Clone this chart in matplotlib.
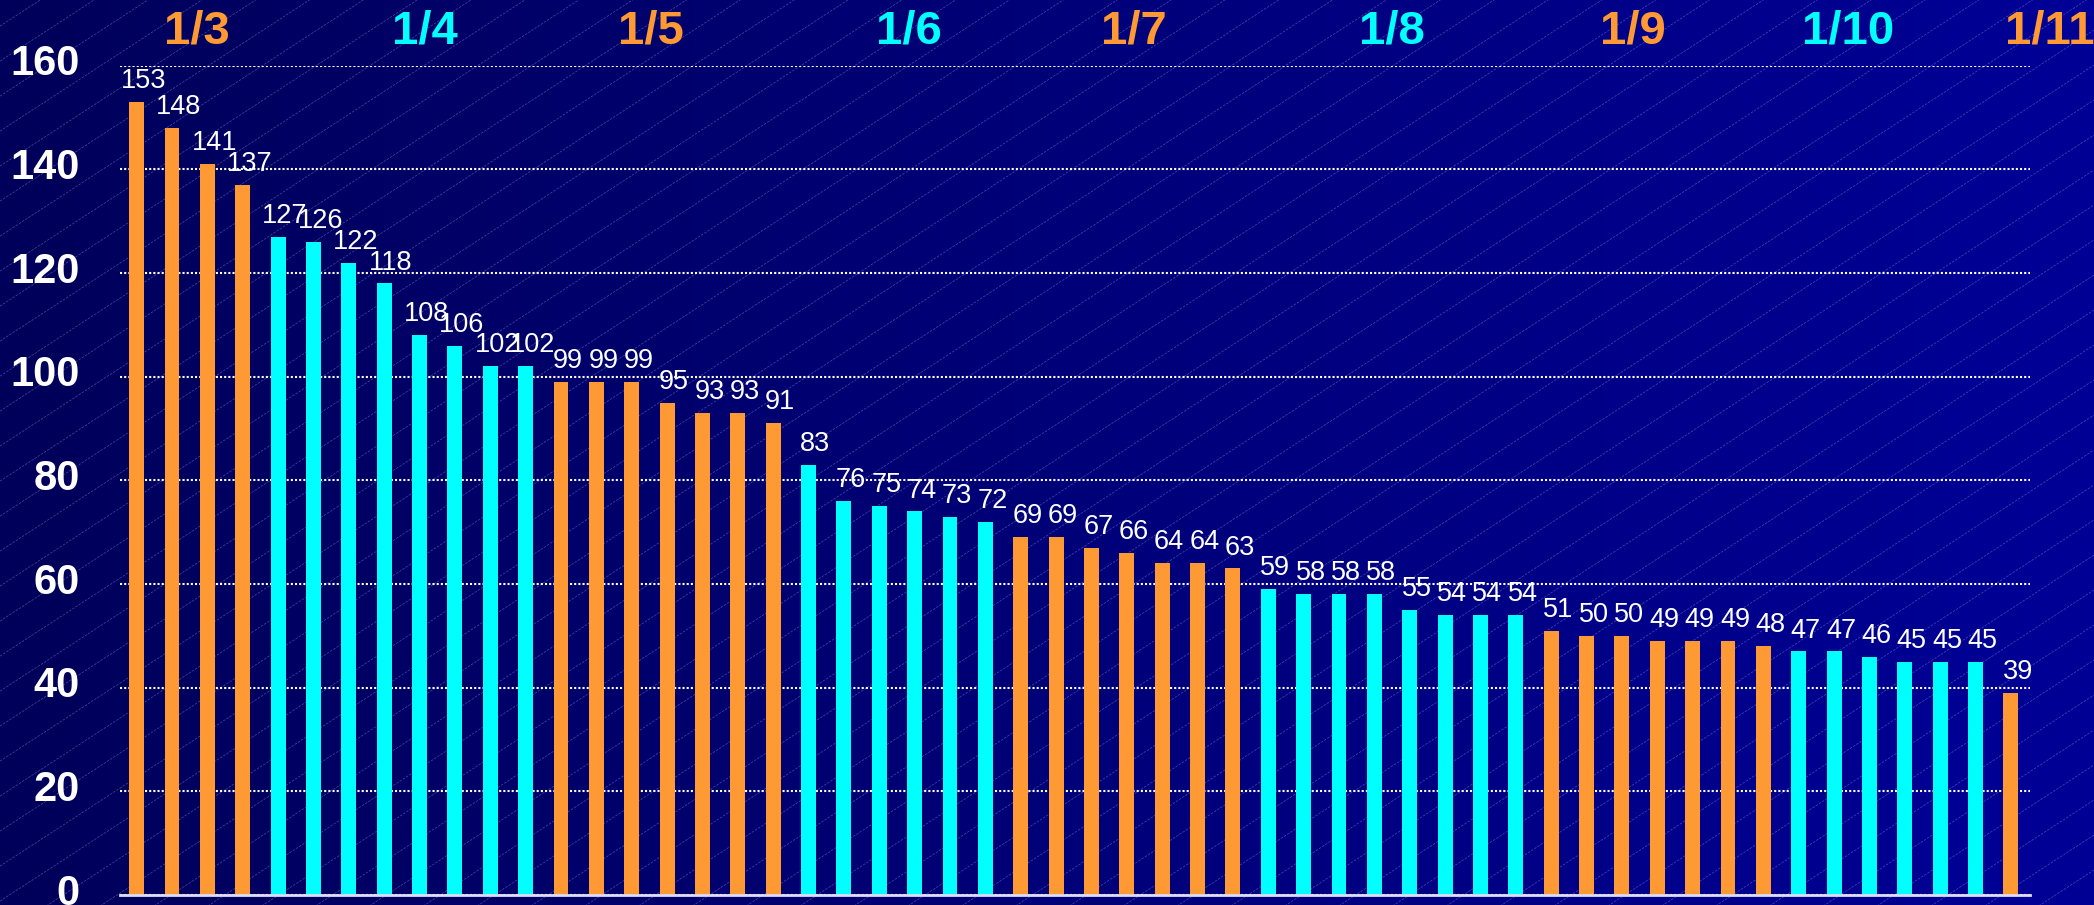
import numpy as np
import matplotlib
matplotlib.use("Agg")
import matplotlib.pyplot as plt
from matplotlib.transforms import ScaledTranslation

plt.rcParams['font.family'] = ['Liberation Sans', 'DejaVu Sans']

# group headers and how many bars fall under each one
group_labels = ['1/3', '1/4', '1/5', '1/6', '1/7', '1/8', '1/9', '1/10', '1/11']
group_sizes = [4, 8, 7, 6, 7, 8, 7, 6, 1]
# where the header text sits (bar index units)
group_label_pos = [1.7, 8.15, 14.55, 21.85, 28.2, 35.5, 42.3, 48.4, 54.1]

values = [153, 148, 141, 137,
          127, 126, 122, 118, 108, 106, 102, 102,
          99, 99, 99, 95, 93, 93, 91,
          83, 76, 75, 74, 73, 72,
          69, 69, 67, 66, 64, 64, 63,
          59, 58, 58, 58, 55, 54, 54, 54,
          51, 50, 50, 49, 49, 49, 48,
          47, 47, 46, 45, 45, 45,
          39]

yticks = [0, 20, 40, 60, 80, 100, 120, 140, 160]

orange = '#FF9933'
cyan = '#00FFFF'
group_colors = [orange if i % 2 == 0 else cyan for i in range(len(group_labels))]
bar_colors = []
for size, col in zip(group_sizes, group_colors):
    bar_colors += [col] * size

W, H = 2094, 905
fig = plt.figure(figsize=(W / 100, H / 100), dpi=100)

# background: horizontal blue gradient with thin diagonal lines
bg = fig.add_axes([0, 0, 1, 1])
bg.set_axis_off()
grad = np.linspace(0, 1, 256)
c0 = np.array([0x00, 0x00, 0x5A]) / 255
c1 = np.array([0x00, 0x00, 0x96]) / 255
img = c0[None, :] * (1 - grad[:, None]) + c1[None, :] * grad[:, None]
bg.imshow(img[None, :, :], extent=[0, W, 0, H], aspect='auto', zorder=0)
slope = 0.65
for c in np.arange(-slope * W, H + 40, 35):
    bg.plot([0, W], [c, c + slope * W], color='#9a9ae6', lw=0.6, alpha=0.4,
            linestyle=(0, (3, 1.5)), zorder=1)
bg.set_xlim(0, W)
bg.set_ylim(0, H)

# main chart
ax = fig.add_axes([120 / W, 10 / H, (2030 - 120) / W, (895 - 65.7) / H])
ax.set_facecolor('none')
x = np.arange(len(values))
ax.bar(x, values, width=0.42, color=bar_colors, zorder=3)

ax.set_xlim(-0.47, len(values) - 1 + 0.54)
ax.set_ylim(0, 160)
ax.set_yticks(yticks)
ax.set_yticklabels([str(t) for t in yticks])
ax.set_xticks([])
ax.yaxis.grid(True, color='white', lw=1.5, linestyle=(0, (1, 1)), zorder=1)
ax.set_axisbelow(True)
for s in ['top', 'right', 'left']:
    ax.spines[s].set_visible(False)
ax.spines['bottom'].set_color('#dcdcf4')
ax.spines['bottom'].set_linewidth(2)
ax.spines['bottom'].set_zorder(4)
ax.tick_params(axis='y', length=0, pad=29, labelcolor='white', labelsize=30)
shift = ScaledTranslation(0, 6 / 100, fig.dpi_scale_trans)
for lab in ax.get_yticklabels():
    lab.set_fontweight('bold')
    lab.set_transform(lab.get_transform() + shift)

# value labels over bars
for xi, v in zip(x, values):
    ax.annotate(str(v), (xi, v), xytext=(5, 10), textcoords='offset points',
                ha='center', va='baseline', color='white', fontsize=19.5,
                zorder=5, annotation_clip=False)

# group headers
for lab, pos, col in zip(group_labels, group_label_pos, group_colors):
    ax.text(pos, 164.2, lab, ha='center', va='baseline', color=col,
            fontsize=34, fontweight='bold', clip_on=False)

fig.savefig('out.png', dpi=100)
